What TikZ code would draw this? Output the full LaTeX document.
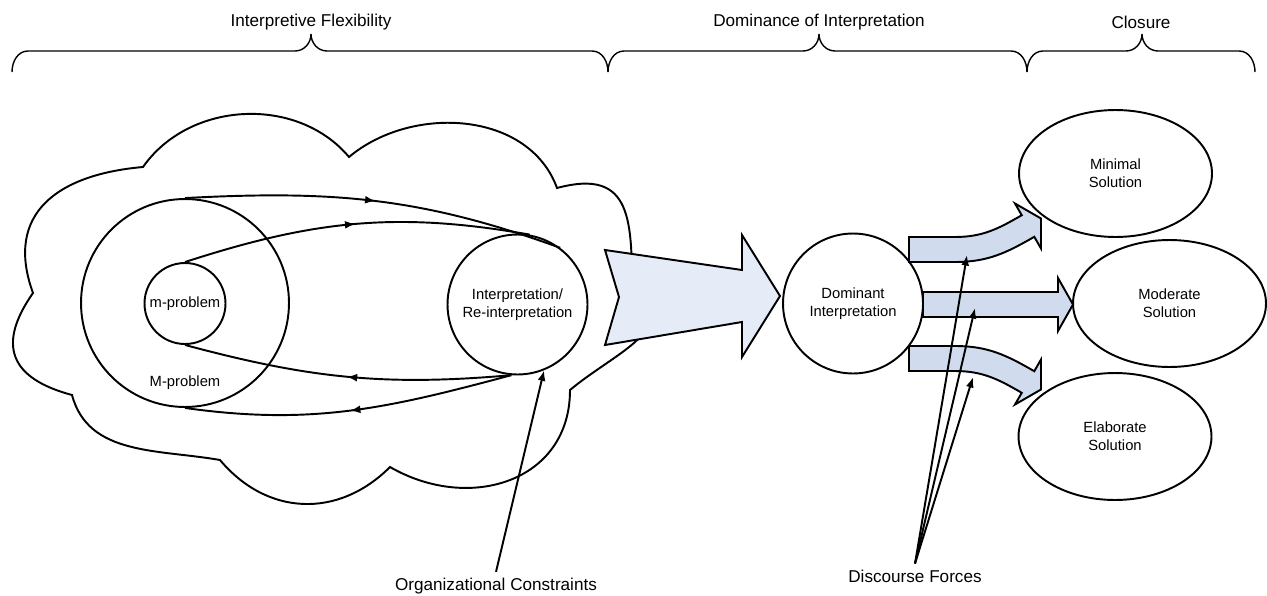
\documentclass[tikz,border=0pt]{standalone}
\usepackage{fontspec}
\setmainfont{Liberation Sans}
\usetikzlibrary{shapes,calc,arrows.meta,decorations.markings}
\definecolor{bigarrowfill}{RGB}{230,236,247}
\definecolor{smallarrowfill}{RGB}{208,220,238}
\newcommand{\labelfont}{\fontsize{9.75}{11.7}\selectfont}
\newcommand{\innerfont}{\fontsize{8.4}{10.2}\selectfont}
% curly bracket over a phase: left end, tip, right end
\newcommand{\phasebrace}[3]{%
  \draw[braceline] (#1,-72) to[out=90,in=180] (#1+16,-51) -- (#2-16,-51)
    to[out=0,in=-90] (#2,-34) to[out=-90,in=180] (#2+16,-51) -- (#3-16,-51)
    to[out=0,in=90] (#3,-72);}

\begin{document}
\begin{tikzpicture}[x=0.02cm, y=0.02cm, font=\labelfont,
    >={Latex[length=6pt,width=4.5pt]},
    outline/.style={line width=1.1pt},
    braceline/.style={line width=0.8pt},
    bubble/.style={circle, draw, line width=1.1pt, inner sep=1pt, align=center, font=\innerfont},
    outcome/.style={ellipse, draw, fill=white, line width=1.1pt, minimum width=3.86cm,
        minimum height=2.54cm, inner sep=1pt, align=center, font=\innerfont},
    flowarrow/.style={outline, postaction={decorate},
        decoration={markings, mark=at position 0.5 with {\arrow{>}}}},
    blockarrow/.style={draw, line width=1.1pt, line join=miter}]
                \useasboundingbox (0,0) rectangle (1267,-595);

                % phases
                \phasebrace{12}{311}{608}
                \phasebrace{608}{819}{1027}
                \phasebrace{1027}{1142}{1255}
                \node (flex) at (311,-22) {Interpretive Flexibility};
                \node (domin) at (819,-22) {Dominance of Interpretation};
                \node (closure) at (1141,-22) {Closure};

                % cloud
                \draw[outline] (33,-293) to[out=110,in=185,looseness=1.3] (143,-167)
                    to[out=55,in=130] (349,-157)
                    to[out=40,in=110] (557,-188)
                    to[out=15,in=90,looseness=1.5] (632,-300)
                    to[out=-30,in=40,looseness=1.3] (570,-390)
                    to[out=-90,in=-30,looseness=1.2] (390,-467)
                    to[out=-135,in=-50,looseness=1.1] (220,-460)
                    to[out=170,in=-75] (72,-395)
                    to[out=165,in=235,looseness=1.5] cycle;

                \node[bubble, minimum size=4.16cm] (Mprob) at (185,-303) {};
                \node (Mlabel) at (185,-383) [font=\innerfont] {M-problem};
                \node[bubble, minimum size=1.62cm] (mprob) at (185,-303.5) {m-problem};
                \node[bubble, minimum size=2.8cm] (interp) at (517.5,-304.5) {Interpretation/\\Re-interpretation};

                \draw[flowarrow] (Mprob.north) to[out=3,in=160] (interp.53);
                \draw[flowarrow] (mprob.north) to[out=18,in=170] (interp.80);
                \draw[flowarrow] (interp.-95) to[out=185,in=-15] (mprob.south);
                \draw[flowarrow] (interp.-95) to[out=195,in=-8] (Mprob.south);

                \filldraw[blockarrow, fill=bigarrowfill] (605,-250) -- (742,-270) -- (742,-235) -- (780,-296)
                    -- (742,-357) -- (742,-322) -- (605,-345) -- (619,-297) -- cycle;

                \node (orgc) at (496,-586) {Organizational Constraints};
                \draw[outline, ->] (orgc.north) -- (interp.-68);

                % closure options
                \filldraw[blockarrow, fill=smallarrowfill] (909,-237) -- (955,-237) to[out=0,in=210] (1021.75,-215.2)
                    -- (1015,-203.5) -- (1041,-218.5) -- (1041,-248.5) -- (1034.25,-236.8)
                    to[out=210,in=0] (955,-262) -- (909,-262) -- cycle;
                \filldraw[blockarrow, fill=smallarrowfill] (923,-292) -- (1058,-292) -- (1058,-278) -- (1073,-304.5)
                    -- (1058,-331) -- (1058,-317) -- (923,-317) -- cycle;
                \filldraw[blockarrow, fill=smallarrowfill] (909,-371) -- (955,-371) to[out=0,in=150] (1021.75,-392.8)
                    -- (1015,-404.5) -- (1041,-389.5) -- (1041,-359.5) -- (1034.25,-371.2)
                    to[out=150,in=0] (955,-346) -- (909,-346) -- cycle;

                \node[bubble, minimum size=2.8cm] (domint) at (853,-303.5) {Dominant\\Interpretation};
                \node[outcome] (minsol) at (1115.5,-173.5) {Minimal\\Solution};
                \node[outcome] (modsol) at (1169.5,-303.5) {Moderate\\Solution};
                \node[outcome] (elabsol) at (1115,-436.5) {Elaborate\\Solution};

                \coordinate (forceA) at (967,-255);
                \coordinate (forceB) at (975,-308);
                \coordinate (forceC) at (973,-377);
                \node (disc) at (915,-576) {Discourse Forces};
                \draw[outline, ->] (disc.north) -- (forceA);
                \draw[outline, ->] (disc.north) -- (forceB);
                \draw[outline, ->] (disc.north) -- (forceC);
            \end{tikzpicture}
\end{document}
